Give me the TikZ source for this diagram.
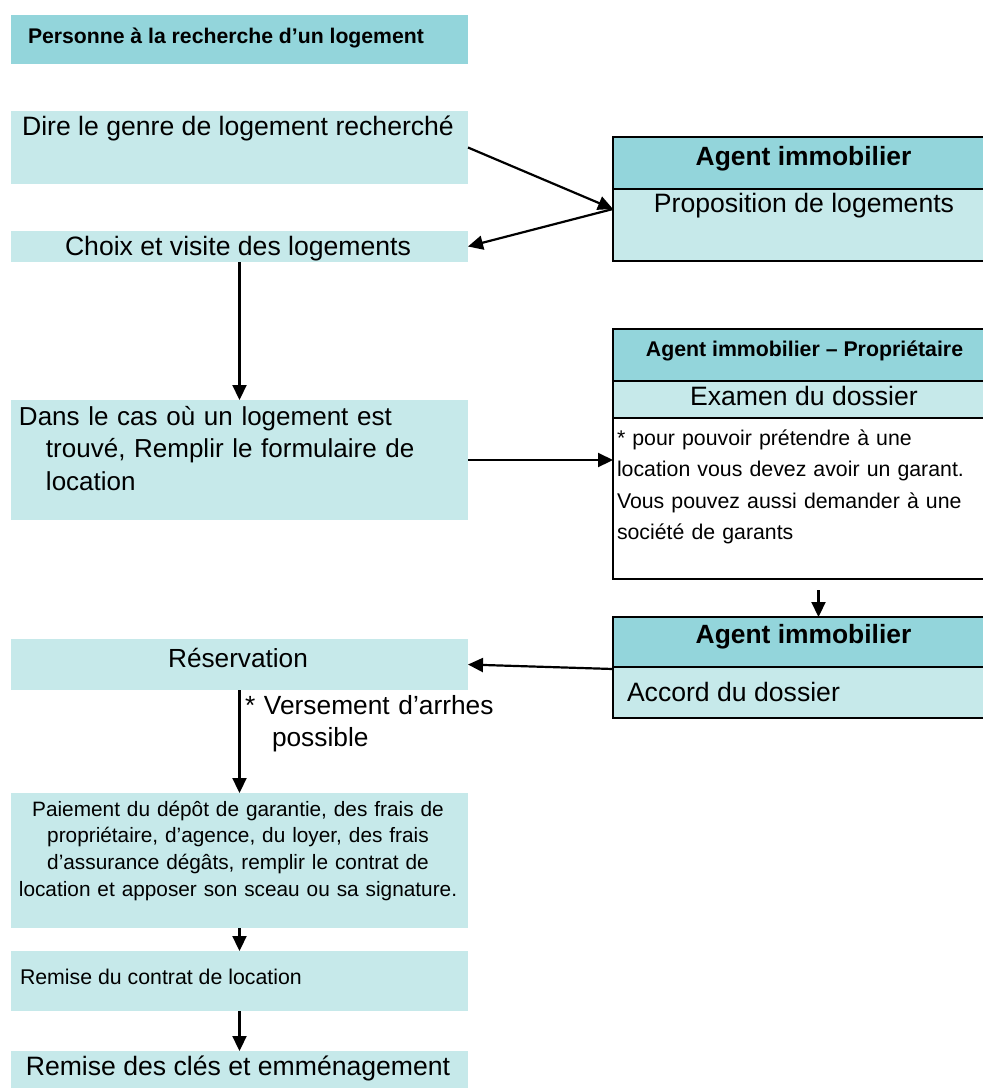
\documentclass[tikz,border=0pt]{standalone}
\usepackage{fontspec}
\setmainfont{Liberation Sans}
\usetikzlibrary{arrows.meta}
\definecolor{tealdark}{HTML}{93D5DB}
\definecolor{teallight}{HTML}{C6E9EA}
\begin{document}
\begin{tikzpicture}[x=1pt,y=-1pt,
  lbox/.style={fill=teallight, draw=none, inner sep=0pt, outer sep=0pt, anchor=north west},
  hbox/.style={fill=tealdark, draw=black, line width=2.3pt, inner sep=0pt, outer sep=0pt, anchor=north west},
  bbox/.style={fill=teallight, draw=black, line width=2.3pt, inner sep=0pt, outer sep=0pt, anchor=north west},
  nbox/.style={fill=white, draw=black, line width=2.3pt, inner sep=0pt, outer sep=0pt, anchor=north west},
  txt/.style={inner sep=0pt, outer sep=0pt, font=\fontsize{26.6}{30}\selectfont},
  stxt/.style={inner sep=0pt, outer sep=0pt, font=\fontsize{21}{26.7}\selectfont},
  arr/.style={line width=2.2pt, -{Triangle[length=15pt,width=14pt]}}
]
\useasboundingbox (0,0) rectangle (983,1088);

% left column boxes
\node[lbox, fill=tealdark, minimum width=457pt, minimum height=49pt] (head) at (11,15) {};
\node[txt, anchor=base west, font=\bfseries\fontsize{21.2}{24}\selectfont] (headt) at (28,43) {Personne à la recherche d’un logement};

\node[lbox, minimum width=457pt, minimum height=73pt] (b1) at (11,111) {};
\node[txt, anchor=base] (b1t) at (238,135) {Dire le genre de logement recherché};

\node[lbox, minimum width=457pt, minimum height=31pt] (b2) at (11,231) {};
\node[txt, anchor=base] (b2t) at (238,255) {Choix et visite des logements};

\node[lbox, minimum width=457pt, minimum height=120pt] (b3) at (11,400) {};
\node[txt, anchor=base west, text width=450pt, align=left, font=\fontsize{26}{32.5}\selectfont] (b3t) at (19,425)
  {Dans le cas où un logement est\\\hspace*{27pt}trouvé, Remplir le formulaire de\\\hspace*{27pt}location};

\node[lbox, minimum width=457pt, minimum height=51pt] (res) at (11,639) {};
\node[txt, anchor=base, font=\fontsize{26.2}{30}\selectfont] (rest) at (238,667) {Réservation};

\node[txt, anchor=base west, text width=260pt, align=left, font=\fontsize{26.3}{32}\selectfont] (vers) at (245,714)
  {* Versement d’arrhes\\\hspace*{27pt}possible};

\node[lbox, minimum width=457pt, minimum height=135pt] (pay) at (11,793) {};
\node[stxt, anchor=base, text width=456pt, align=center, font=\fontsize{20.8}{26.7}\selectfont] (payt) at (238,816)
  {Paiement du dépôt de garantie, des frais de\\propriétaire, d’agence, du loyer, des frais\\d’assurance dégâts, remplir le contrat de\\location et apposer son sceau ou sa signature.};

\node[lbox, minimum width=457pt, minimum height=60pt] (rc) at (11,951) {};
\node[stxt, anchor=base west, font=\fontsize{21.3}{26}\selectfont] (rct) at (20,984) {Remise du contrat de location};

\node[lbox, minimum width=457pt, minimum height=45pt] (rk) at (11,1051) {};
\node[txt, anchor=base] (rkt) at (238,1075) {Remise des clés et emménagement};

% right column boxes
\node[hbox, minimum width=377pt, minimum height=52pt] (r1h) at (613,137) {};
\node[bbox, minimum width=377pt, minimum height=72pt] (r1b) at (613,189) {};
\node[txt, anchor=base, font=\bfseries\fontsize{26.4}{30}\selectfont] (r1ht) at (803.5,165) {Agent immobilier};
\node[txt, anchor=base] (r1bt) at (804,212) {Proposition de logements};

\node[hbox, minimum width=377pt, minimum height=52pt] (r2h) at (613,329) {};
\node[bbox, minimum width=377pt, minimum height=37pt] (r2b) at (613,381) {};
\node[nbox, minimum width=377pt, minimum height=161pt] (r2n) at (613,418) {};
\node[txt, anchor=base, font=\bfseries\fontsize{21.3}{24}\selectfont] (r2ht) at (804.5,356) {Agent immobilier – Propriétaire};
\node[txt, anchor=base, font=\fontsize{26.6}{30}\selectfont] (r2bt) at (804,405) {Examen du dossier};
\node[txt, anchor=base west, text width=366pt, align=left, font=\fontsize{21.3}{31.5}\selectfont] (r2nt) at (617,445)
  {* pour pouvoir prétendre à une\\location vous devez avoir un garant.\\Vous pouvez aussi demander à une\\société de garants};

\node[hbox, minimum width=377pt, minimum height=50pt] (r3h) at (613,617) {};
\node[bbox, minimum width=377pt, minimum height=51pt] (r3b) at (613,667) {};
\node[txt, anchor=base, font=\bfseries\fontsize{26.4}{30}\selectfont] (r3ht) at (803.5,643) {Agent immobilier};
\node[txt, anchor=base west] (r3bt) at (627,701) {Accord du dossier};

% connectors
\draw[arr] (b1.east) -- ([yshift=16pt]r1b.west);
\draw[arr] ([yshift=16pt]r1b.west) -- (b2.east);
\draw[arr] (b2.south) -- (b3.north);
\draw[arr] (b3.east) -- (b3.east -| r2n.west);
\draw[arr] ([xshift=17pt,yshift=-11pt]r2n.south) -- ([xshift=17pt]r3h.north);
\draw[arr] ([yshift=-2pt]r3h.south west) -- (res.east);
\draw[arr] (res.south) -- (pay.north);
\draw[arr] (pay.south) -- (rc.north);
\draw[arr] (rc.south) -- (rk.north);
\end{tikzpicture}
\end{document}
